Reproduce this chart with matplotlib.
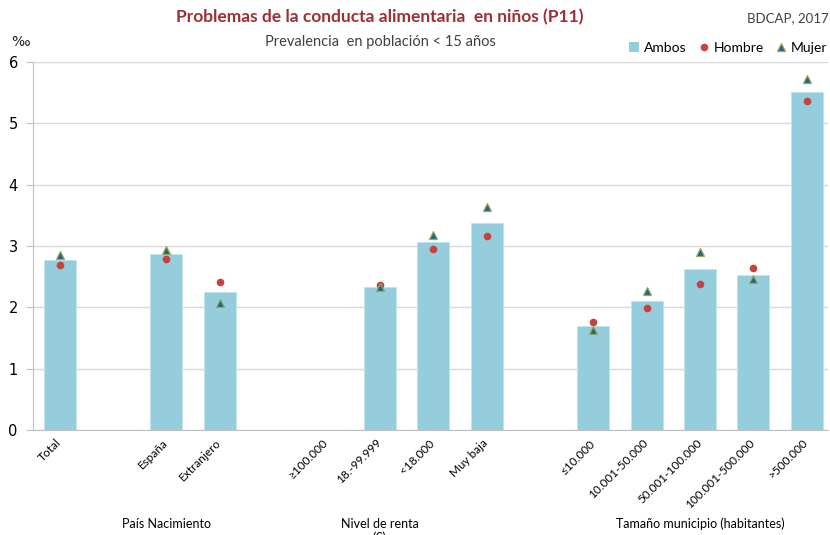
import numpy as np
import matplotlib

matplotlib.use('Agg')
import matplotlib.pyplot as plt
import matplotlib.transforms as mtransforms
from matplotlib.lines import Line2D
from matplotlib.patches import Patch

NARROW = ['Liberation Sans Narrow', 'DejaVu Sans Condensed', 'Lato', 'DejaVu Sans']

# categories (None = empty slot between groups)
categories = ['Total', None, 'España', 'Extranjero', None,
              '≥100.000', '18.-99.999', '<18.000', 'Muy baja', None,
              '≤10.000', '10.001-50.000', '50.001-100.000', '100.001-500.000', '>500.000']
ambos = [2.77, None, 2.87, 2.25, None, None, 2.34, 3.07, 3.37, None, 1.69, 2.11, 2.62, 2.53, 5.52]
hombre = [2.70, None, 2.79, 2.41, None, None, 2.36, 2.96, 3.16, None, 1.76, 1.99, 2.38, 2.64, 5.37]
mujer = [2.85, None, 2.94, 2.08, None, None, 2.34, 3.18, 3.63, None, 1.64, 2.27, 2.90, 2.46, 5.73]
groups = [('País Nacimiento', 2.0), ('Nivel de renta\n(€)', 6.0), ('Tamaño municipio (habitantes)', 12.0)]

BAR_C = '#96cddc'
RED = '#c8403f'
TRI_FACE = '#2c5f86'
TRI_EDGE = '#8cb05a'


def to_arr(vals):
    return np.array([np.nan if v is None else v for v in vals], dtype=float)


fig = plt.figure(figsize=(8.3, 5.35), dpi=100)
ax = fig.add_axes([0.0398, 0.196, 0.958, 0.688])

x = np.arange(len(categories))
ax.bar(x, to_arr(ambos), width=0.6, color=BAR_C, edgecolor='#bfe3ec', linewidth=0.6, zorder=2)
ax.plot(x, to_arr(hombre), 'o', color=RED, markersize=5.5, markeredgewidth=0, zorder=3)
ax.plot(x, to_arr(mujer), '^', color=TRI_FACE, markeredgecolor=TRI_EDGE, markersize=5.5,
        markeredgewidth=0.9, linestyle='none', zorder=4)

ax.set_ylim(0, 6)
ax.set_xlim(-0.5, 14.4)
ax.set_yticks(range(7))
ax.yaxis.grid(True, color='#d9d9d9', linewidth=1.0, zorder=0)
ax.set_axisbelow(True)
for s in ['top', 'right']:
    ax.spines[s].set_visible(False)
ax.spines['left'].set_color('#bfbfbf')
ax.spines['bottom'].set_color('#bfbfbf')
ax.tick_params(axis='y', length=5, color='#bfbfbf', labelsize=10.5, pad=6)
ax.tick_params(axis='x', length=0, pad=5)
ax.set_xticks(x)
ax.set_xticklabels([c if c else '' for c in categories], rotation=45, ha='right',
                   rotation_mode='anchor', fontsize=8.5, family=NARROW)
shift = mtransforms.ScaledTranslation(-3 / 72, 0, fig.dpi_scale_trans)
for lab in ax.get_xticklabels():
    lab.set_transform(lab.get_transform() + shift)

for name, pos in groups:
    ax.text(pos, -1.43, name, ha='center', va='top', fontsize=9, family=NARROW,
            linespacing=1.15)

fig.text(0.458, 0.968, 'Problemas de la conducta alimentaria  en niños (P11)', ha='center',
         va='center', fontsize=12.5, fontweight='bold', color='#9e2f33', family=NARROW)
fig.text(0.998, 0.966, 'BDCAP, 2017', ha='right', va='center', fontsize=9.5, color='#404040',
         family=NARROW)
fig.text(0.458, 0.921, 'Prevalencia  en población < 15 años', ha='center', va='center',
         fontsize=10.5, color='#404040', family=NARROW)
fig.text(0.014, 0.921, '‰', ha='left', va='center', fontsize=10, color='#202020')

handles = [Patch(facecolor=BAR_C, edgecolor='none'),
           Line2D([], [], marker='o', color=RED, linestyle='none', markersize=5.5, markeredgewidth=0),
           Line2D([], [], marker='^', color=TRI_FACE, markeredgecolor=TRI_EDGE, linestyle='none',
                  markersize=5.5, markeredgewidth=0.9)]
fig.legend(handles, ['Ambos', 'Hombre', 'Mujer'], loc='center right', bbox_to_anchor=(1.012, 0.911),
           ncol=3, frameon=False, handlelength=0.7, handletextpad=0.35, columnspacing=0.9,
           prop={'family': NARROW, 'size': 10})

fig.savefig('out.png', dpi=100)
